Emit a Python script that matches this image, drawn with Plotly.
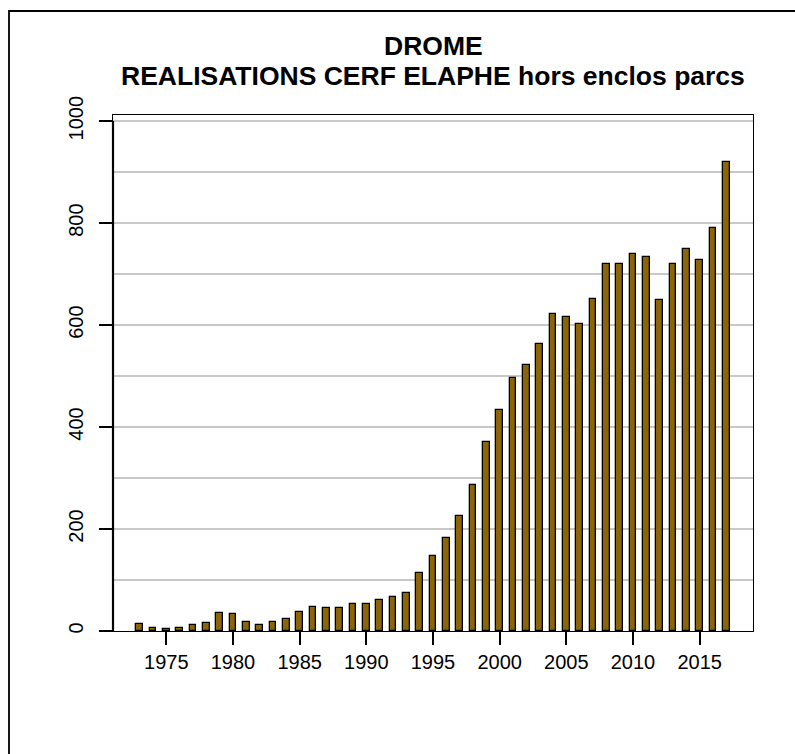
import plotly.graph_objects as go

years = [1973, 1974, 1975, 1976, 1977, 1978, 1979, 1980, 1981, 1982,
         1983, 1984, 1985, 1986, 1987, 1988, 1989, 1990, 1991, 1992,
         1993, 1994, 1995, 1996, 1997, 1998, 1999, 2000, 2001, 2002,
         2003, 2004, 2005, 2006, 2007, 2008, 2009, 2010, 2011, 2012,
         2013, 2014, 2015, 2016, 2017]
realisations = [14, 6, 3, 5, 11, 16, 36, 34, 17, 12,
                18, 24, 38, 48, 46, 46, 53, 53, 61, 67,
                74, 114, 148, 183, 225, 287, 370, 434, 496, 522,
                563, 622, 615, 602, 652, 719, 719, 740, 734, 649,
                719, 750, 727, 790, 920]
x_ticks = [1975, 1980, 1985, 1990, 1995, 2000, 2005, 2010, 2015]
y_ticks = [0, 200, 400, 600, 800, 1000]
title_line1 = "DROME"
title_line2 = "REALISATIONS CERF ELAPHE hors enclos parcs"

FONT = "Liberation Sans, Arial, Helvetica, sans-serif"
W, H = 795, 754
L, R, T, B = 113, 42, 115, 123
pw, ph = W - L - R, H - T - B

def px_to_paper_x(px):
    return (px - L) / pw

def px_to_paper_y(py):
    return (H - B - py) / ph

fig = go.Figure()
fig.add_trace(go.Bar(
    x=years, y=realisations, width=0.5,
    marker=dict(color="#8B6508", line=dict(color="black", width=1.3)),
    showlegend=False,
))

ymax = max(realisations) * 1.1

fig.update_layout(
    width=W, height=H,
    margin=dict(l=L, r=R, t=T, b=B, pad=0),
    paper_bgcolor="white", plot_bgcolor="white",
    font=dict(family=FONT, color="black", size=20),
    xaxis=dict(
        range=[1971, 2019], tickmode="array", tickvals=x_ticks,
        ticktext=[str(v) for v in x_ticks],
        ticks="outside", ticklen=13, tickwidth=1.5, tickcolor="black",
        showline=True, linecolor="black", linewidth=1.3, mirror=True,
        showgrid=False, zeroline=False,
        tickfont=dict(size=20, family=FONT),
    ),
    yaxis=dict(
        range=[0, ymax], tickmode="array", tickvals=y_ticks,
        ticktext=[str(v) for v in y_ticks],
        ticks="outside", ticklen=13, tickwidth=1.5, tickcolor="black",
        tickangle=-90, ticklabelstandoff=8,
        showline=True, linecolor="black", linewidth=1.3, mirror=True,
        showgrid=True, gridcolor="#c8c8c8", gridwidth=1.5,
        minor=dict(dtick=100, tick0=0, showgrid=True, gridcolor="#c8c8c8",
                   gridwidth=1.5, ticklen=0),
        zeroline=False,
        tickfont=dict(size=20, family=FONT),
    ),
    bargap=0,
)

# thicker left axis segment (R axis from first to last tick)
fig.add_shape(type="line", xref="paper", yref="y",
              x0=0, x1=0, y0=y_ticks[0], y1=y_ticks[-1],
              line=dict(color="black", width=2.2), layer="above")

# outer figure frame
fig.add_shape(type="rect", xref="paper", yref="paper",
              x0=px_to_paper_x(9), x1=px_to_paper_x(W + 20),
              y0=px_to_paper_y(H + 20), y1=px_to_paper_y(11),
              line=dict(color="black", width=1.8), layer="above")

fig.add_annotation(text="<b>" + title_line1 + "</b>", xref="paper", yref="paper",
                   x=0.5, y=px_to_paper_y(46), xanchor="center", yanchor="middle",
                   showarrow=False, font=dict(size=26.5, family=FONT, color="black"))
fig.add_annotation(text="<b>" + title_line2 + "</b>", xref="paper", yref="paper",
                   x=0.5, y=px_to_paper_y(76), xanchor="center", yanchor="middle",
                   showarrow=False, font=dict(size=26.5, family=FONT, color="black"))

fig.write_html("out.html",
               config={"displayModeBar": False},
               post_script="document.body.style.margin='0';document.body.style.overflow='hidden';")
